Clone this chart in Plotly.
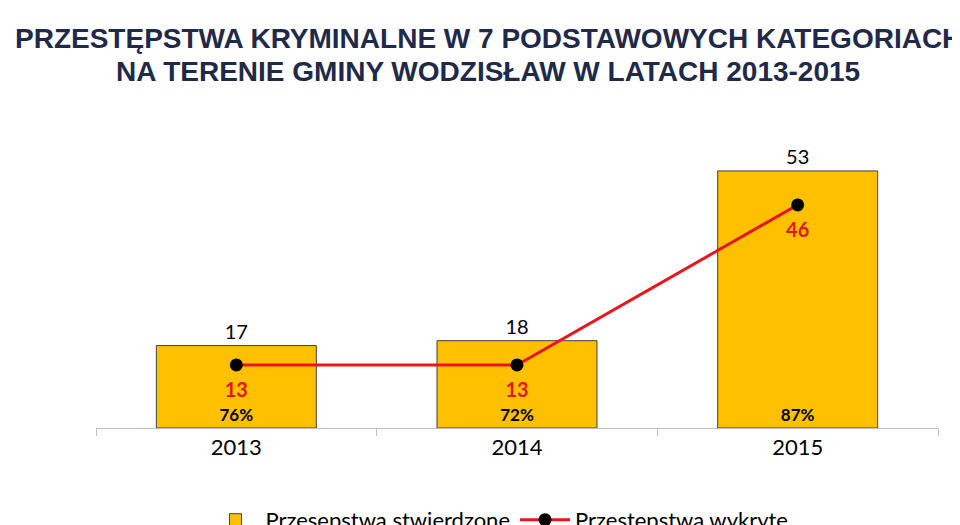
import plotly.graph_objects as go

years = ["2013", "2014", "2015"]
stwierdzone = [17, 18, 53]
wykryte = [13, 13, 46]
wykrywalnosc = ["76%", "72%", "87%"]

fig = go.Figure()

fig.add_trace(go.Bar(
    x=years, y=stwierdzone, name="Przesępstwa stwierdzone",
    marker=dict(color="#FFC000", line=dict(color="#404040", width=1)),
    width=0.57, text=stwierdzone, textposition="outside",
    textfont=dict(size=20, color="black", family="Lato"),
    cliponaxis=False))

fig.add_trace(go.Scatter(
    x=years, y=wykryte, name="Przestępstwa wykryte",
    mode="lines+markers",
    line=dict(color="#E8161C", width=3),
    marker=dict(color="black", size=13)))

# etykiety wykrytych pod punktami
fig.add_trace(go.Scatter(
    x=years, y=[v - 5.5 for v in wykryte], mode="text", text=wykryte,
    textfont=dict(size=20, color="#E8161C", family="Lato"),
    texttemplate="<b>%{text}</b>", showlegend=False, hoverinfo="skip"))

# wykrywalnosc w procentach
fig.add_trace(go.Scatter(
    x=years, y=[2.3] * 3, mode="text", text=wykrywalnosc,
    textfont=dict(size=17, color="black", family="Lato"),
    texttemplate="<b>%{text}</b>", showlegend=False, hoverinfo="skip"))

title_font = dict(family="Liberation Sans", size=28, color="#1F2A4A")
fig.add_annotation(text="<b>PRZESTĘPSTWA KRYMINALNE W 7 PODSTAWOWYCH KATEGORIACH</b>",
                   xref="paper", yref="paper", x=0.466, y=1.40, showarrow=False,
                   font=title_font)
fig.add_annotation(text="<b>NA TERENIE GMINY WODZISŁAW W LATACH 2013-2015</b>",
                   xref="paper", yref="paper", x=0.466, y=1.285, showarrow=False,
                   font=title_font)

fig.update_xaxes(showline=True, linecolor="#BFBFBF", ticks="outside",
                 tickson="boundaries", tickcolor="#BFBFBF", ticklen=7,
                 tickfont=dict(size=22, color="black", family="Lato"))
fig.update_yaxes(range=[0, 60], visible=False)

fig.update_layout(
    width=960, height=525,
    margin=dict(l=88, r=30, t=129, b=105, autoexpand=False),
    paper_bgcolor="white", plot_bgcolor="white",
    bargap=0.43, showlegend=True,
    legend=dict(orientation="h", x=0.13, xanchor="left",
                yref="container", y=0.025, yanchor="middle",
                font=dict(size=22, color="black", family="Lato"),
                itemwidth=50, traceorder="normal"),
)

fig.write_html("out.html")
